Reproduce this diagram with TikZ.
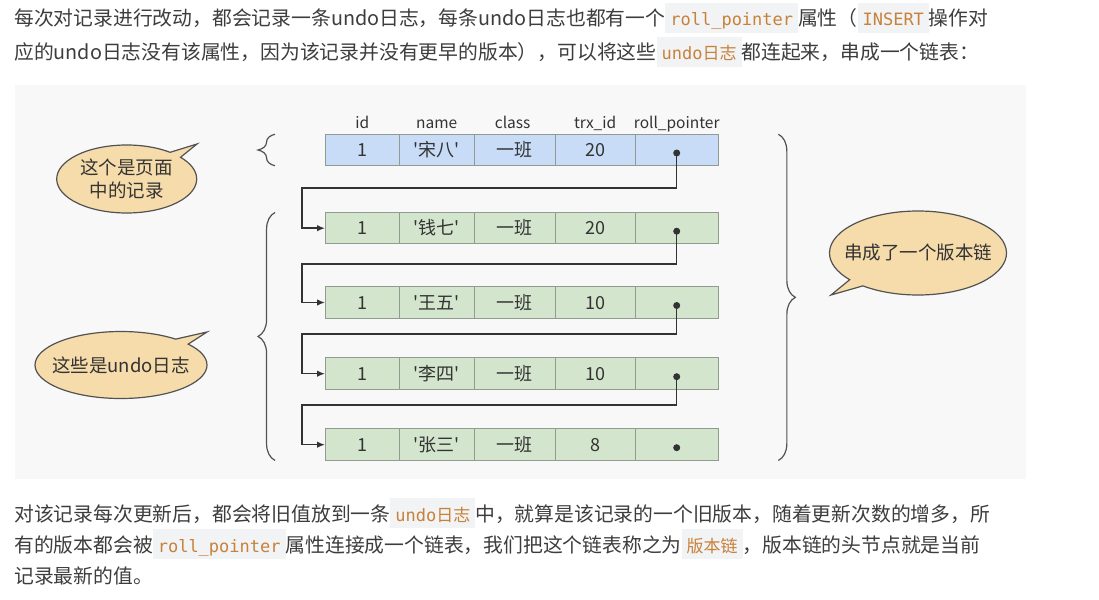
\documentclass[tikz,border=0pt]{standalone}
\usepackage{fontspec}
\usetikzlibrary{positioning, arrows.meta, shapes.callouts, decorations.pathreplacing}

\newfontfamily\cjk[Ligatures=TeXOff]{Noto Sans CJK SC}
\newfontfamily\mono{DejaVu Sans Mono}

\definecolor{bodytext}{HTML}{3D3D3D}
\definecolor{codefg}{HTML}{C8813A}
\definecolor{codebg}{HTML}{F2F3F4}
\definecolor{panel}{HTML}{F8F8F8}
\definecolor{rowblue}{HTML}{C8DCF7}
\definecolor{rowgreen}{HTML}{D4E5CD}
\definecolor{cellline}{HTML}{8F9C8F}
\definecolor{bubblefill}{HTML}{F6DCAB}
\definecolor{inkline}{HTML}{333333}

\newcommand{\code}[1]{{\setlength{\fboxsep}{0pt}\colorbox{codebg}{\rule[-7pt]{0pt}{30pt}\hspace{5pt}\mono\fontsize{17}{20}\selectfont\color{codefg}#1\hspace{5pt}}}}
\newcommand{\hl}[1]{{\setlength{\fboxsep}{0pt}\colorbox{codebg}{\rule[-7pt]{0pt}{30pt}\hspace{5pt}\fontsize{17}{20}\selectfont\color{codefg}#1\hspace{5pt}}}}

\tikzset{
    para/.style={anchor=base west, inner sep=0pt, text=bodytext, font=\cjk\fontsize{19.8}{24}\selectfont},
    cell/.style={draw=cellline, line width=1pt, minimum height=31.5pt, inner sep=0pt, outer sep=0pt,
        text=inkline, font=\cjk\fontsize{18}{20}\selectfont, text height=14.5pt, text depth=1.5pt},
    head/.style={anchor=base, inner sep=0pt, text=inkline, font=\cjk\fontsize{15.5}{18}\selectfont},
    dot/.style={circle, fill=inkline, inner sep=0pt, minimum size=7pt},
    link/.style={draw=inkline, line width=1.5pt, -{Latex[length=8pt, width=6.5pt]}},
    brace/.style={decorate, decoration={brace, amplitude=17pt}, draw=inkline!85, line width=1.2pt},
    bubble/.style={ellipse callout, draw=inkline!85, line width=1.2pt, fill=bubblefill, inner sep=0pt,
        align=center, text=inkline, font=\cjk\fontsize{18.5}{23}\selectfont, callout pointer arc=12}
}

\begin{document}
\begin{tikzpicture}[x=1pt, y=-1pt]
    \useasboundingbox (0,0) rectangle (1099,599);
    \fill[white] (0,0) rectangle (1099,599);
    \fill[panel] (15,85) rectangle (1026,479);

    % Text above
    \node[para] (t1) at (14,26) {每次对记录进行改动，都会记录一条undo日志，每条undo日志也都有一个\code{roll\_pointer}属性（\code{INSERT}操作对};
    \node[para] (t2) at (14,60) {应的undo日志没有该属性，因为该记录并没有更早的版本），可以将这些\hl{{\mono undo}日志}都连起来，串成一个链表：};

    % Records
    \foreach \r/\y/\rowfill/\who/\trx in {1/150/rowblue/宋八/20, 2/228.2/rowgreen/钱七/20, 3/302.5/rowgreen/王五/10, 4/373.7/rowgreen/李四/10, 5/444.7/rowgreen/张三/8} {
        \node[cell, fill=\rowfill, minimum width=74.3pt] (r\r-1) at (362.2,\y) {1};
        \node[cell, fill=\rowfill, minimum width=74.7pt, right=0pt of r\r-1] (r\r-2) {'\who'};
        \node[cell, fill=\rowfill, minimum width=81.3pt, right=0pt of r\r-2] (r\r-3) {一班};
        \node[cell, fill=\rowfill, minimum width=79.7pt, right=0pt of r\r-3] (r\r-4) {\trx};
        \node[cell, fill=\rowfill, minimum width=83.3pt, right=0pt of r\r-4] (r\r-5) {};
        \node[dot] (p\r) at ([yshift=-3pt]r\r-5.center) {};
    }

    % Column names
    \node[head] (h1) at ([yshift=6pt]r1-1.north) {id};
    \node[head] (h2) at ([yshift=6pt]r1-2.north) {name};
    \node[head] (h3) at ([xshift=-2pt, yshift=6pt]r1-3.north) {class};
    \node[head] (h4) at ([yshift=6pt]r1-4.north) {trx\_id};
    \node[head] (h5) at ([yshift=6pt]r1-5.north) {roll\_pointer};

    % Draw connections
    \coordinate (g1) at (302,188);
    \coordinate (g2) at (302,264);
    \coordinate (g3) at (302,334);
    \coordinate (g4) at (302,405);
    \draw[link] (p1.center) |- (g1) |- (r2-1.west);
    \draw[link] (p2.center) |- (g2) |- (r3-1.west);
    \draw[link] (p3.center) |- (g3) |- (r4-1.west);
    \draw[link] (p4.center) |- (g4) |- (r5-1.west);

    % Braces
    \draw[brace] ([xshift=-50pt]r1-1.south west) -- ([xshift=-50pt]r1-1.north west);
    \draw[brace] ([xshift=-50pt]r5-1.south west) -- ([xshift=-50pt]r2-1.north west);
    \draw[brace] ([xshift=60pt]r1-5.north east) -- ([xshift=60pt]r5-5.south east);

    % Labels
    \node[bubble, minimum width=140pt, minimum height=68pt, callout absolute pointer={(197,144)}] (b1) at (126.7,179) {这个是页面\\中的记录};
    \node[bubble, inner xsep=-9pt, minimum width=172pt, minimum height=67pt, callout absolute pointer={(207,332)}] (b2) at (121,365) {这些是undo日志};
    \node[bubble, inner xsep=-12.5pt, minimum width=177pt, minimum height=84pt, callout absolute pointer={(831,295)}] (b3) at (918,253) {串成了一个版本链};

    % Text below
    \node[para] (t3) at (14,521) {对该记录每次更新后，都会将旧值放到一条\hl{{\mono undo}日志}中，就算是该记录的一个旧版本，随着更新次数的增多，所};
    \node[para] (t4) at (14,552) {有的版本都会被\code{roll\_pointer}属性连接成一个链表，我们把这个链表称之为\hl{版本链}，版本链的头节点就是当前};
    \node[para] (t5) at (14,583) {记录最新的值。};
\end{tikzpicture}
\end{document}
